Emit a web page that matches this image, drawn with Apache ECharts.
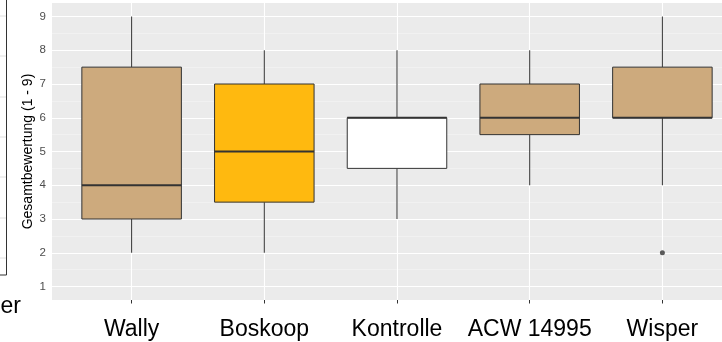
<!DOCTYPE html>
<html>
<head>
<meta charset="utf-8">
<script src="https://cdn.jsdelivr.net/npm/echarts@6/dist/echarts.min.js"></script>
<style>
html,body{margin:0;padding:0;background:#fff;}
#c{width:722px;height:342px;}
</style>
</head>
<body>
<div id="c"></div>
<script>
// ---- data ----
var categories = ['Wally', 'Boskoop', 'Kontrolle', 'ACW 14995', 'Wisper'];
var whiskerLow  = [2, 2, 3, 4, 4];
var q1          = [3, 3.5, 4.5, 5.5, 6];
var medians     = [4, 5, 6, 6, 6];
var q3          = [7.5, 7, 6, 7, 7.5];
var whiskerHigh = [9, 8, 8, 8, 9];
var fills       = ['#CDAA7D', '#FFB90F', '#FFFFFF', '#CDAA7D', '#CDAA7D'];
var outliers    = [[4, 2]];
var yTicks      = [1, 2, 3, 4, 5, 6, 7, 8, 9];
var yMinor      = [1.5, 2.5, 3.5, 4.5, 5.5, 6.5, 7.5, 8.5];
var xTicks      = [0, 1, 2, 3, 4];
var yTitle      = 'Gesamtbewertung (1 - 9)';

var boxData = categories.map(function (c, i) {
  return [i, whiskerLow[i], q1[i], medians[i], q3[i], whiskerHigh[i]];
});

var chart = echarts.init(document.getElementById('c'), null, {renderer: 'canvas'});

var gridLines = [];
yMinor.forEach(function (v) {
  gridLines.push({yAxis: v, lineStyle: {color: '#F5F5F5', width: 0.6, type: 'solid'}});
});
yTicks.forEach(function (v) {
  gridLines.push({yAxis: v, lineStyle: {color: '#FFFFFF', width: 1.1, type: 'solid'}});
});
xTicks.forEach(function (v) {
  gridLines.push({xAxis: v, lineStyle: {color: '#FFFFFF', width: 1.1, type: 'solid'}});
});

var option = {
  animation: false,
  backgroundColor: '#FFFFFF',
  textStyle: {fontFamily: 'Liberation Sans, Arial, sans-serif'},
  grid: {
    left: 52, top: 3, width: 690, height: 297,
    outerBoundsMode: 'none',
    containLabel: false,
    show: true, backgroundColor: '#EBEBEB', borderWidth: 0
  },
  xAxis: {
    type: 'value', min: -0.6, max: 4.6,
    axisLine: {show: false},
    splitLine: {show: false},
    axisTick: {show: true, customValues: xTicks, length: 3.5, lineStyle: {color: '#333333', width: 1}},
    axisLabel: {
      customValues: xTicks,
      formatter: function (v) { return categories[Math.round(v)]; },
      fontSize: 23, color: '#000000', margin: 18,
      fontFamily: 'Liberation Sans, Arial, sans-serif'
    }
  },
  yAxis: {
    type: 'value', min: 0.6, max: 9.4,
    axisLine: {show: false},
    splitLine: {show: false},
    axisTick: {show: true, customValues: yTicks, length: 3.5, lineStyle: {color: '#333333', width: 1}},
    axisLabel: {
      customValues: yTicks,
      fontSize: 11.5, color: '#4D4D4D', margin: 6,
      fontFamily: 'Liberation Sans, Arial, sans-serif'
    },
    name: yTitle,
    nameLocation: 'middle',
    nameRotate: 90,
    nameGap: 17,
    nameMoveOverlap: false,
    nameTextStyle: {fontSize: 14, color: '#000000', fontFamily: 'Liberation Sans, Arial, sans-serif'}
  },
  series: [
    {
      type: 'custom',
      data: boxData,
      z: 3,
      markLine: {
        silent: true,
        symbol: ['none', 'none'],
        label: {show: false},
        z: 1,
        data: gridLines
      },
      renderItem: function (params, api) {
        var x = api.value(0);
        var half = api.size([0.75, 0])[0] / 2;
        var pLow = api.coord([x, api.value(1)]);
        var pQ1 = api.coord([x, api.value(2)]);
        var pMed = api.coord([x, api.value(3)]);
        var pQ3 = api.coord([x, api.value(4)]);
        var pHigh = api.coord([x, api.value(5)]);
        var stroke = '#333333';
        return {
          type: 'group',
          children: [
            {type: 'line', shape: {x1: pLow[0], y1: pLow[1], x2: pQ1[0], y2: pQ1[1]}, style: {stroke: stroke, lineWidth: 1}},
            {type: 'line', shape: {x1: pQ3[0], y1: pQ3[1], x2: pHigh[0], y2: pHigh[1]}, style: {stroke: stroke, lineWidth: 1}},
            {type: 'rect', shape: {x: pQ1[0] - half, y: pQ3[1], width: half * 2, height: pQ1[1] - pQ3[1]},
              style: {fill: fills[params.dataIndex], stroke: stroke, lineWidth: 1}},
            {type: 'line', shape: {x1: pMed[0] - half, y1: pMed[1], x2: pMed[0] + half, y2: pMed[1]}, style: {stroke: stroke, lineWidth: 2}}
          ]
        };
      }
    },
    {
      type: 'scatter',
      data: outliers,
      symbol: 'circle',
      symbolSize: 5,
      z: 4,
      itemStyle: {color: '#333333'}
    }
  ],
  graphic: [
    {type: 'rect', shape: {x: -20, y: -5, width: 26.5, height: 280}, style: {fill: '#FFFFFF', stroke: '#333333', lineWidth: 1}, z: 10},
    {type: 'line', shape: {x1: 0, y1: 16, x2: 6, y2: 16}, style: {stroke: '#E0E0E0', lineWidth: 1}, z: 11},
    {type: 'line', shape: {x1: 0, y1: 56, x2: 6, y2: 56}, style: {stroke: '#E0E0E0', lineWidth: 1}, z: 11},
    {type: 'line', shape: {x1: 0, y1: 97, x2: 6, y2: 97}, style: {stroke: '#E0E0E0', lineWidth: 1}, z: 11},
    {type: 'line', shape: {x1: 0, y1: 137, x2: 6, y2: 137}, style: {stroke: '#E0E0E0', lineWidth: 1}, z: 11},
    {type: 'line', shape: {x1: 0, y1: 177, x2: 6, y2: 177}, style: {stroke: '#E0E0E0', lineWidth: 1}, z: 11},
    {type: 'line', shape: {x1: 0, y1: 218, x2: 6, y2: 218}, style: {stroke: '#E0E0E0', lineWidth: 1}, z: 11},
    {type: 'line', shape: {x1: 0, y1: 258, x2: 6, y2: 258}, style: {stroke: '#E0E0E0', lineWidth: 1}, z: 11},
    {type: 'text', x: 21, y: 318, style: {text: 'er', fontSize: 23, fill: '#000000', textAlign: 'right', textVerticalAlign: 'bottom', fontFamily: 'Liberation Sans, Arial, sans-serif'}, z: 11}
  ]
};
chart.setOption(option);
</script>
</body>
</html>
